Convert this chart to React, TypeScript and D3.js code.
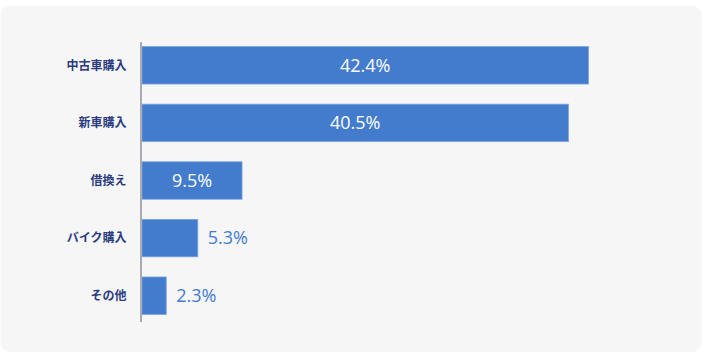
import React from "react";
import * as d3 from "d3";

const categories = ["中古車購入", "新車購入", "借換え", "バイク購入", "その他"];
const values = [42.4, 40.5, 9.5, 5.3, 2.3];
const valueLabels = ["42.4%", "40.5%", "9.5%", "5.3%", "2.3%"];

const W = 702;
const H = 357;

export default function App() {
  const x = d3.scaleLinear().domain([0, 50]).range([142, 142 + 10.53 * 50]);
  const y = d3.scaleBand<string>().domain(categories).range([36.5, 324.5]).paddingInner(0.35).paddingOuter(0.175);
  const bw = y.bandwidth();
  return (
    <svg width={W} height={H} style={{ position: "absolute", left: 0, top: 0 }}>
      <rect x={0} y={0} width={W} height={H} fill="#ffffff" />
      <rect x={0.5} y={6} width={701} height={346} rx={9} fill="#f6f6f6" />
      {categories.map((c, i) => {
        const v = values[i];
        const x0 = x(0);
        const x1 = x(v);
        const yy = y(c)!;
        const inside = x1 - x0 > 60;
        return (
          <g key={c}>
            <rect x={x0} y={yy} width={x1 - x0} height={bw} fill="#437bcd" stroke="#7aa3e2" strokeWidth={0.8} />
            <text
              x={inside ? (x0 + x1) / 2 : x1 + 10}
              y={yy + bw / 2}
              dy="0.35em"
              textAnchor={inside ? "middle" : "start"}
              fill={inside ? "#ffffff" : "#437bcd"}
              fontFamily="'Open Sans', 'Noto Sans', sans-serif"
              fontSize={18}
            >
              {valueLabels[i]}
            </text>
            <text
              x={126.5}
              y={yy + bw / 2}
              dy="0.35em"
              textAnchor="end"
              fill="#2a3b7e"
              fontFamily="'Noto Sans CJK JP', sans-serif"
              fontWeight="bold"
              fontSize={12}
            >
              {c}
            </text>
          </g>
        );
      })}
      <line x1={141} x2={141} y1={42} y2={322} stroke="#aaaab2" strokeWidth={2} />
    </svg>
  );
}
